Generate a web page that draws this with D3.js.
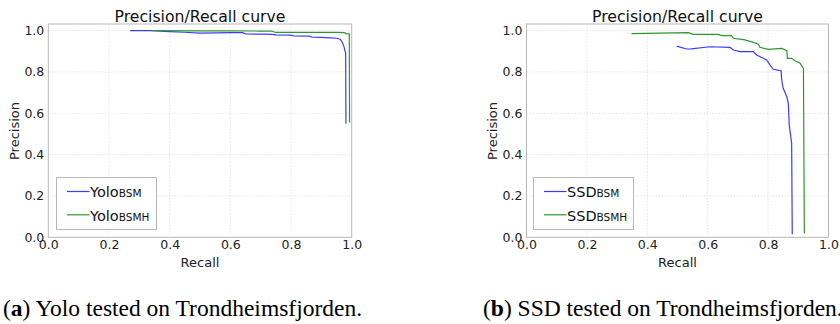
<!DOCTYPE html>
<html><head><meta charset="utf-8">
<script src="https://cdn.jsdelivr.net/npm/d3@7"></script>
<style>body{margin:0;background:#fff}svg{display:block}</style>
</head><body><svg id="c" width="840" height="324"></svg>
<script>
const xTicks = [0.0, 0.2, 0.4, 0.6, 0.8, 1.0];
const yTicks = [0.0, 0.2, 0.4, 0.6, 0.8, 1.0];

const yoloBsmRecall    = [0.27,0.34,0.40,0.45,0.50,0.55,0.60,0.64,0.65,0.70,0.74,0.75,0.80,0.81,0.86,0.87,0.90,0.93,0.95,0.962,0.966,0.970,0.975,0.978,0.980,0.981];
const yoloBsmPrecision = [1.0,1.0,0.995,0.992,0.988,0.989,0.990,0.990,0.984,0.983,0.982,0.979,0.978,0.974,0.973,0.968,0.967,0.965,0.963,0.958,0.950,0.940,0.920,0.900,0.895,0.550];
const yoloBsmhRecall    = [0.338,0.50,0.60,0.70,0.736,0.75,0.85,0.95,0.978,0.980,0.992,0.993];
const yoloBsmhPrecision = [1.0,0.999,0.999,0.998,0.998,0.991,0.991,0.991,0.990,0.985,0.984,0.556];

const ssdBsmRecall    = [0.497,0.53,0.545,0.608,0.674,0.685,0.707,0.751,0.762,0.784,0.795,0.806,0.817,0.843,0.845,0.850,0.862,0.867,0.870,0.878,0.880];
const ssdBsmPrecision = [0.925,0.911,0.912,0.922,0.919,0.906,0.898,0.898,0.882,0.866,0.858,0.834,0.813,0.806,0.761,0.721,0.680,0.648,0.543,0.455,0.015];
const ssdBsmhRecall    = [0.348,0.536,0.552,0.635,0.646,0.679,0.685,0.723,0.751,0.768,0.773,0.801,0.845,0.862,0.864,0.878,0.889,0.906,0.915,0.917,0.920];
const ssdBsmhPrecision = [0.985,0.990,0.982,0.982,0.976,0.976,0.963,0.955,0.943,0.934,0.919,0.909,0.914,0.903,0.866,0.866,0.854,0.842,0.821,0.818,0.019];

const panels = [
  {x0:48.3, x1:351.7, ylab:18.5, legX:56.5, series:[
     {name:"Yolo", sub:"BSM", r:yoloBsmRecall, p:yoloBsmPrecision, color:"#3b3bff"},
     {name:"Yolo", sub:"BSMH", r:yoloBsmhRecall, p:yoloBsmhPrecision, color:"#2c982c"}],
   caption:{x:3, bold:"a", text:" Yolo tested on Trondheimsfjorden."}},
  {x0:526.5, x1:828.5, ylab:496.5, legX:533.5, series:[
     {name:"SSD", sub:"BSM", r:ssdBsmRecall, p:ssdBsmPrecision, color:"#3b3bff"},
     {name:"SSD", sub:"BSMH", r:ssdBsmhRecall, p:ssdBsmhPrecision, color:"#2c982c"}],
   caption:{x:483, bold:"b", text:" SSD tested on Trondheimsfjorden."}}
];

const svg = d3.select("#c");
const font = "DejaVu Sans, sans-serif";
const yTop = 24, yBot = 237.3;

panels.forEach(pn => {
  const x = d3.scaleLinear().domain([0,1]).range([pn.x0, pn.x1]);
  const y = d3.scaleLinear().domain([0,1.032]).range([yBot, yTop]);
  const g = svg.append("g");
  // grid
  g.selectAll(".gx").data(xTicks.slice(1,-1)).join("line")
    .attr("x1",d=>x(d)).attr("x2",d=>x(d)).attr("y1",yTop).attr("y2",yBot)
    .attr("stroke","#e0e0e0").attr("stroke-dasharray","1.5,1.5").attr("stroke-width",0.8);
  g.selectAll(".gy").data(yTicks.slice(1)).join("line")
    .attr("x1",pn.x0).attr("x2",pn.x1).attr("y1",d=>y(d)).attr("y2",d=>y(d))
    .attr("stroke","#e0e0e0").attr("stroke-dasharray","1.5,1.5").attr("stroke-width",0.8);
  // frame
  g.append("rect").attr("x",pn.x0).attr("y",yTop).attr("width",pn.x1-pn.x0).attr("height",yBot-yTop)
    .attr("fill","none").attr("stroke","#b8b8b8").attr("stroke-width",1);
  // axes
  const ax = g.append("g").attr("transform",`translate(0,${yBot})`)
    .call(d3.axisBottom(x).tickValues(xTicks).tickFormat(d3.format(".1f")).tickSize(0).tickPadding(3));
  ax.select(".domain").remove();
  ax.selectAll("text").attr("font-family",font).attr("font-size",12.5).attr("fill","#222");
  const ay = g.append("g").attr("transform",`translate(${pn.x0},0)`)
    .call(d3.axisLeft(y).tickValues(yTicks).tickFormat(d3.format(".1f")).tickSize(0).tickPadding(4));
  ay.select(".domain").remove();
  ay.selectAll("text").attr("font-family",font).attr("font-size",12.5).attr("fill","#222");
  // labels
  g.append("text").attr("x",(pn.x0+pn.x1)/2).attr("y",21.5).attr("text-anchor","middle")
    .attr("font-family",font).attr("font-size",15.7).attr("fill","#111").text("Precision/Recall curve");
  g.append("text").attr("x",(pn.x0+pn.x1)/2).attr("y",267).attr("text-anchor","middle")
    .attr("font-family",font).attr("font-size",13).attr("fill","#222").text("Recall");
  g.append("text").attr("transform",`translate(${pn.ylab},131) rotate(-90)`).attr("text-anchor","middle")
    .attr("font-family",font).attr("font-size",13).attr("fill","#222").text("Precision");
  // lines
  const line = d3.line().x(d=>x(d[0])).y(d=>y(d[1]));
  pn.series.forEach(s => {
    g.append("path").datum(d3.zip(s.r, s.p)).attr("d",line)
      .attr("fill","none").attr("stroke",s.color).attr("stroke-width",1.2);
  });
  // legend
  const lx = pn.legX, ly = 177.5;
  g.append("rect").attr("x",lx).attr("y",ly).attr("width",100).attr("height",52)
    .attr("fill","#fff").attr("stroke","#b8b8b8").attr("stroke-width",1);
  pn.series.forEach((s,i) => {
    const yy = ly + 14 + i*23.3;
    g.append("line").attr("x1",lx+10.5).attr("x2",lx+33).attr("y1",yy).attr("y2",yy)
      .attr("stroke",s.color).attr("stroke-width",1.2);
    const t = g.append("text").attr("x",lx+33.5).attr("y",yy+5.8)
      .attr("font-family",font).attr("font-size",14.5).attr("fill","#111");
    t.append("tspan").text(s.name);
    t.append("tspan").attr("font-size",10.5).text(s.sub);
  });
  // caption
  const c = svg.append("text").attr("x",pn.caption.x).attr("y",316)
    .attr("font-family","Liberation Serif, Times New Roman, serif").attr("font-size",23.5).attr("fill","#000");
  c.append("tspan").text("(");
  c.append("tspan").attr("font-weight","bold").text(pn.caption.bold);
  c.append("tspan").text(")" + pn.caption.text);
});
</script></body></html>
